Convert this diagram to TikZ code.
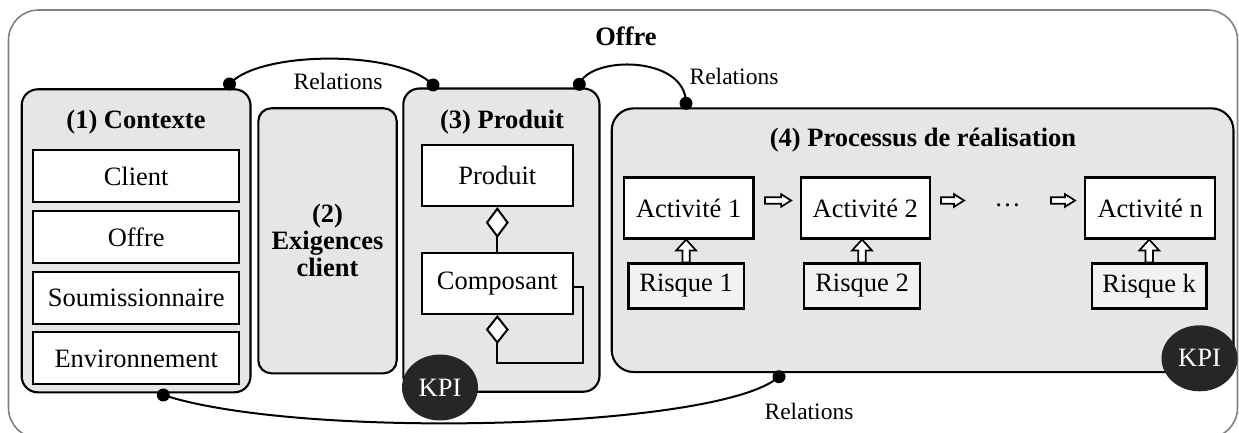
\documentclass[tikz,border=0pt]{standalone}
\usepackage{fontspec}
\setmainfont{Liberation Serif}
\usetikzlibrary{calc,arrows.meta,shapes.geometric}
\definecolor{boxgray}{HTML}{E6E6E6}
\definecolor{riskgray}{HTML}{F2F2F2}
\definecolor{kpidark}{HTML}{262626}
\definecolor{framegray}{HTML}{808080}
\newcommand\hollowarrow[5]{%
  \coordinate (hah) at ($(#2)!#5!(#1)$);
  \draw[arrowline] ($(#1)!#3!90:(#2)$) -- ($(hah)!#3!90:(#2)$) -- ($(hah)!#4!90:(#2)$) -- (#2)
    -- ($(hah)!#4!-90:(#2)$) -- ($(hah)!#3!-90:(#2)$) -- ($(#1)!#3!-90:(#2)$) -- cycle;}
\tikzset{
  frame/.style={draw=framegray, line width=1.6pt, rounded corners=30pt, inner sep=0pt},
  container/.style={draw, line width=2.1pt, fill=boxgray, inner sep=0pt},
  item/.style={draw, line width=2.1pt, fill=white, inner sep=0pt},
  riskbox/.style={draw, line width=2.1pt, fill=riskgray, inner sep=0pt},
  kpi/.style={ellipse, fill=kpidark, text=white, inner sep=0pt, minimum width=76pt, minimum height=66pt},
  dotn/.style={circle, fill=black, inner sep=0pt, minimum size=13pt},
  rel/.style={line width=2pt},
  arrowline/.style={draw, fill=white, line width=1.7pt, line join=miter},
  txt/.style={font=\fontsize{26.5}{27}\selectfont},
  title/.style={font=\fontsize{26.5}{27}\selectfont\bfseries, inner sep=0pt},
  rellabel/.style={font=\fontsize{23.5}{25}\selectfont, inner sep=0pt},
  agg/.style={line width=2pt},
}
\begin{document}
\begin{tikzpicture}[x=1pt, y=-1pt, every node/.append style={txt}]
\useasboundingbox (0,0) rectangle (1239,433);
% outer frame
\node[frame, minimum width=1229pt, minimum height=428pt] (offreframe) at (623,224) {};
\node[title] (offretitle) at (626,36) {Offre};
% containers
\node[container, rounded corners=16pt, minimum width=228.8pt, minimum height=303pt] (ctx) at (136.1,240.8) {};
\node[container, rounded corners=13pt, minimum width=138.4pt, minimum height=265pt, align=center, font=\fontsize{26.5}{27}\selectfont\bfseries] (req) at (327.5,240.8) {(2)\\Exigences\\client};
\node[container, rounded corners=16pt, minimum width=196.2pt, minimum height=303.2pt] (prod) at (501.4,240.1) {};
\node[container, rounded corners=22pt, minimum width=621.8pt, minimum height=263.7pt] (proc) at (922.6,240.2) {};
\node[title] (ctxt) at (136,122) {(1) Contexte};
\node[title] (prodt) at (502,122) {(3) Produit};
\node[title] (proct) at (923,140) {(4) Processus de réalisation};
% context items
\node[item, minimum width=205.7pt, minimum height=52pt] (client) at (136.2,176) {Client};
\node[item, minimum width=205.7pt, minimum height=52pt] (offreitem) at (136.2,236.8) {Offre};
\node[item, minimum width=205.7pt, minimum height=52pt] (soum) at (136.2,297.6) {Soumissionnaire};
\node[item, minimum width=205.7pt, minimum height=52pt] (env) at (136.2,358.4) {Environnement};
% product
\node[item, minimum width=151.3pt, minimum height=61pt] (prodbox) at (497.3,175.5) {Produit};
\node[item, minimum width=151.3pt, minimum height=61pt] (comp) at (497.3,283.5) {Composant};
\coordinate (loopc) at (582.7,362.7);
\draw[agg, {Diamond[fill=white, length=31pt, width=23pt]}-] (prodbox.south) -- (comp.north);
\draw[agg, {Diamond[fill=white, length=29pt, width=23pt]}-] (comp.south) |- (loopc) |- ([yshift=-3pt]comp.east);
% process
\node[item, minimum width=129.5pt, minimum height=61pt] (act1) at (688.7,208) {Activité 1};
\node[item, minimum width=129.3pt, minimum height=61pt] (act2) at (865.3,208) {Activité 2};
\node[item, minimum width=130.3pt, minimum height=61pt] (actn) at (1150.2,208) {Activité n};
\node[riskbox, minimum width=115.3pt, minimum height=45pt] (risk1) at (686.1,286) {Risque 1};
\node[riskbox, minimum width=116pt, minimum height=45pt] (risk2) at (862,286) {Risque 2};
\node[riskbox, minimum width=114.5pt, minimum height=45pt] (riskk) at (1149.2,286) {Risque k};
\node[inner sep=0pt] (dots) at (1007.5,205) {…};
\coordinate (a1s) at ($(act1.east)+(10.5,-7.5)$);
\coordinate (a1e) at ($(act2.west)+(-8.5,-7.5)$);
\coordinate (a2s) at ($(act2.east)+(10,-7.5)$);
\coordinate (a2e) at ($(dots.west)+(-30,-4.5)$);
\coordinate (a3s) at ($(dots.east)+(30,-4.5)$);
\coordinate (a3e) at ($(actn.west)+(-9,-7.5)$);
\hollowarrow{a1s}{a1e}{3.3pt}{6.3pt}{10pt}
\hollowarrow{a2s}{a2e}{3.3pt}{6.3pt}{10pt}
\hollowarrow{a3s}{a3e}{3.3pt}{6.3pt}{10pt}
\coordinate (u1e) at (risk1.north |- act1.south);
\coordinate (u2e) at (risk2.north |- act2.south);
\coordinate (uke) at (riskk.north |- actn.south);
\hollowarrow{risk1.north}{u1e}{3.7pt}{10pt}{11pt}
\hollowarrow{risk2.north}{u2e}{3.7pt}{10pt}{11pt}
\hollowarrow{riskk.north}{uke}{3.7pt}{10pt}{11pt}
% relations
\node[dotn] (d1) at (229.5,84) {};
\node[dotn] (d2) at (433,85) {};
\node[dotn] (d3) at (579.3,84.3) {};
\node[dotn] (d4) at (686,103.3) {};
\node[dotn] (d5) at (163.3,395) {};
\node[dotn] (d6) at (779,376.7) {};
\draw[rel] (d1.center) .. controls +(30.5,-34) and +(-33,-35) .. (d2.center);
\draw[rel] (d3.center) .. controls +(11,-29) and +(0,-48) .. (d4.center);
\draw[rel] (d5.center) .. controls +(137,45) and +(-59,53) .. (d6.center);
\node[rellabel] (rl1) at (338,81.7) {Relations};
\node[rellabel] (rl2) at (734,76.7) {Relations};
\node[rellabel] (rl3) at (809,411.7) {Relations};
% KPI
\node[kpi] (kpi1) at (440,387.5) {KPI};
\node[kpi] (kpi2) at (1199.5,358.3) {KPI};
\end{tikzpicture}
\end{document}
